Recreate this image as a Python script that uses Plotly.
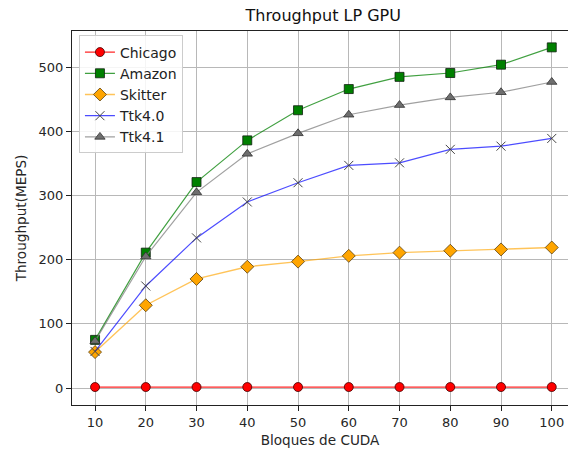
import plotly.graph_objects as go

# Bloques de CUDA
bloques = [10, 20, 30, 40, 50, 60, 70, 80, 90, 100]

# Throughput (MEPS) per dataset
chicago = [1.5, 1.5, 1.5, 1.5, 1.5, 1.5, 1.5, 1.5, 1.5, 1.5]
amazon = [75, 211, 321, 386, 433, 466, 485, 491, 504, 531]
skitter = [56, 129, 170, 189, 197, 206, 211, 214, 216, 219]
ttk40 = [57, 159, 234, 290, 320, 347, 351, 372, 377, 389]
ttk41 = [73, 205, 305, 365, 397, 426, 441, 453, 461, 477]

x_ticks = [10, 20, 30, 40, 50, 60, 70, 80, 90, 100]
y_ticks = [0, 100, 200, 300, 400, 500]

FONT = "DejaVu Sans"

fig = go.Figure()

series = [
    ("Chicago", chicago, dict(line=dict(color="rgba(255,0,0,0.85)", width=1.2),
                              marker=dict(symbol="circle", size=9, color="#ff0000",
                                          line=dict(color="#400000", width=0.8)))),
    ("Amazon", amazon, dict(line=dict(color="rgba(0,128,0,0.75)", width=1.2),
                            marker=dict(symbol="square", size=9, color="#008000",
                                        line=dict(color="#102010", width=0.8)))),
    ("Skitter", skitter, dict(line=dict(color="rgba(255,165,0,0.65)", width=1.4),
                              marker=dict(symbol="diamond", size=10, color="#ffa500",
                                          line=dict(color="#5a4010", width=0.8)))),
    ("Ttk4.0", ttk40, dict(line=dict(color="rgba(0,0,255,0.7)", width=1.2),
                           marker=dict(symbol="x-thin-open", size=9, color="#444444",
                                       line=dict(color="#444444", width=1)))),
    ("Ttk4.1", ttk41, dict(line=dict(color="rgba(128,128,128,0.75)", width=1.2),
                           marker=dict(symbol="triangle-up", size=9, color="#6e6e6e",
                                       line=dict(color="#303030", width=0.8)))),
]

for name, values, style in series:
    fig.add_trace(go.Scatter(x=bloques, y=values, name=name, mode="lines+markers", **style))

fig.update_layout(
    width=568,
    height=449,
    margin=dict(l=72, r=0, t=31, b=44),
    paper_bgcolor="white",
    plot_bgcolor="white",
    font=dict(family=FONT, size=13, color="#262626"),
    title=dict(text="Throughput LP GPU", x=0.569, xanchor="center", y=0.965, yanchor="middle",
               font=dict(family=FONT, size=16, color="#111111")),
    legend=dict(
        x=0.014, y=0.988, xanchor="left", yanchor="top",
        bgcolor="rgba(255,255,255,0.85)", bordercolor="#cccccc", borderwidth=1,
        font=dict(family=FONT, size=14, color="#222222"),
        tracegroupgap=0, itemwidth=30,
    ),
    showlegend=True,
)

fig.update_xaxes(
    range=[5.46, 103.2],
    tickvals=x_ticks,
    ticks="outside", ticklen=5, tickcolor="#222222",
    showline=True, linecolor="#222222", linewidth=1, mirror=True,
    showgrid=True, gridcolor="#b8b8b8", gridwidth=1,
    zeroline=False,
    title=dict(text="Bloques de CUDA", font=dict(family=FONT, size=13.6), standoff=6),
)
fig.update_yaxes(
    range=[-26.5, 556.5],
    tickvals=y_ticks,
    ticks="outside", ticklen=5, tickcolor="#222222",
    showline=True, linecolor="#222222", linewidth=1, mirror=True,
    showgrid=True, gridcolor="#b8b8b8", gridwidth=1,
    zeroline=False,
    title=dict(text="Throughput(MEPS)", font=dict(family=FONT, size=13.6), standoff=8),
)

fig.write_html("out.html")
